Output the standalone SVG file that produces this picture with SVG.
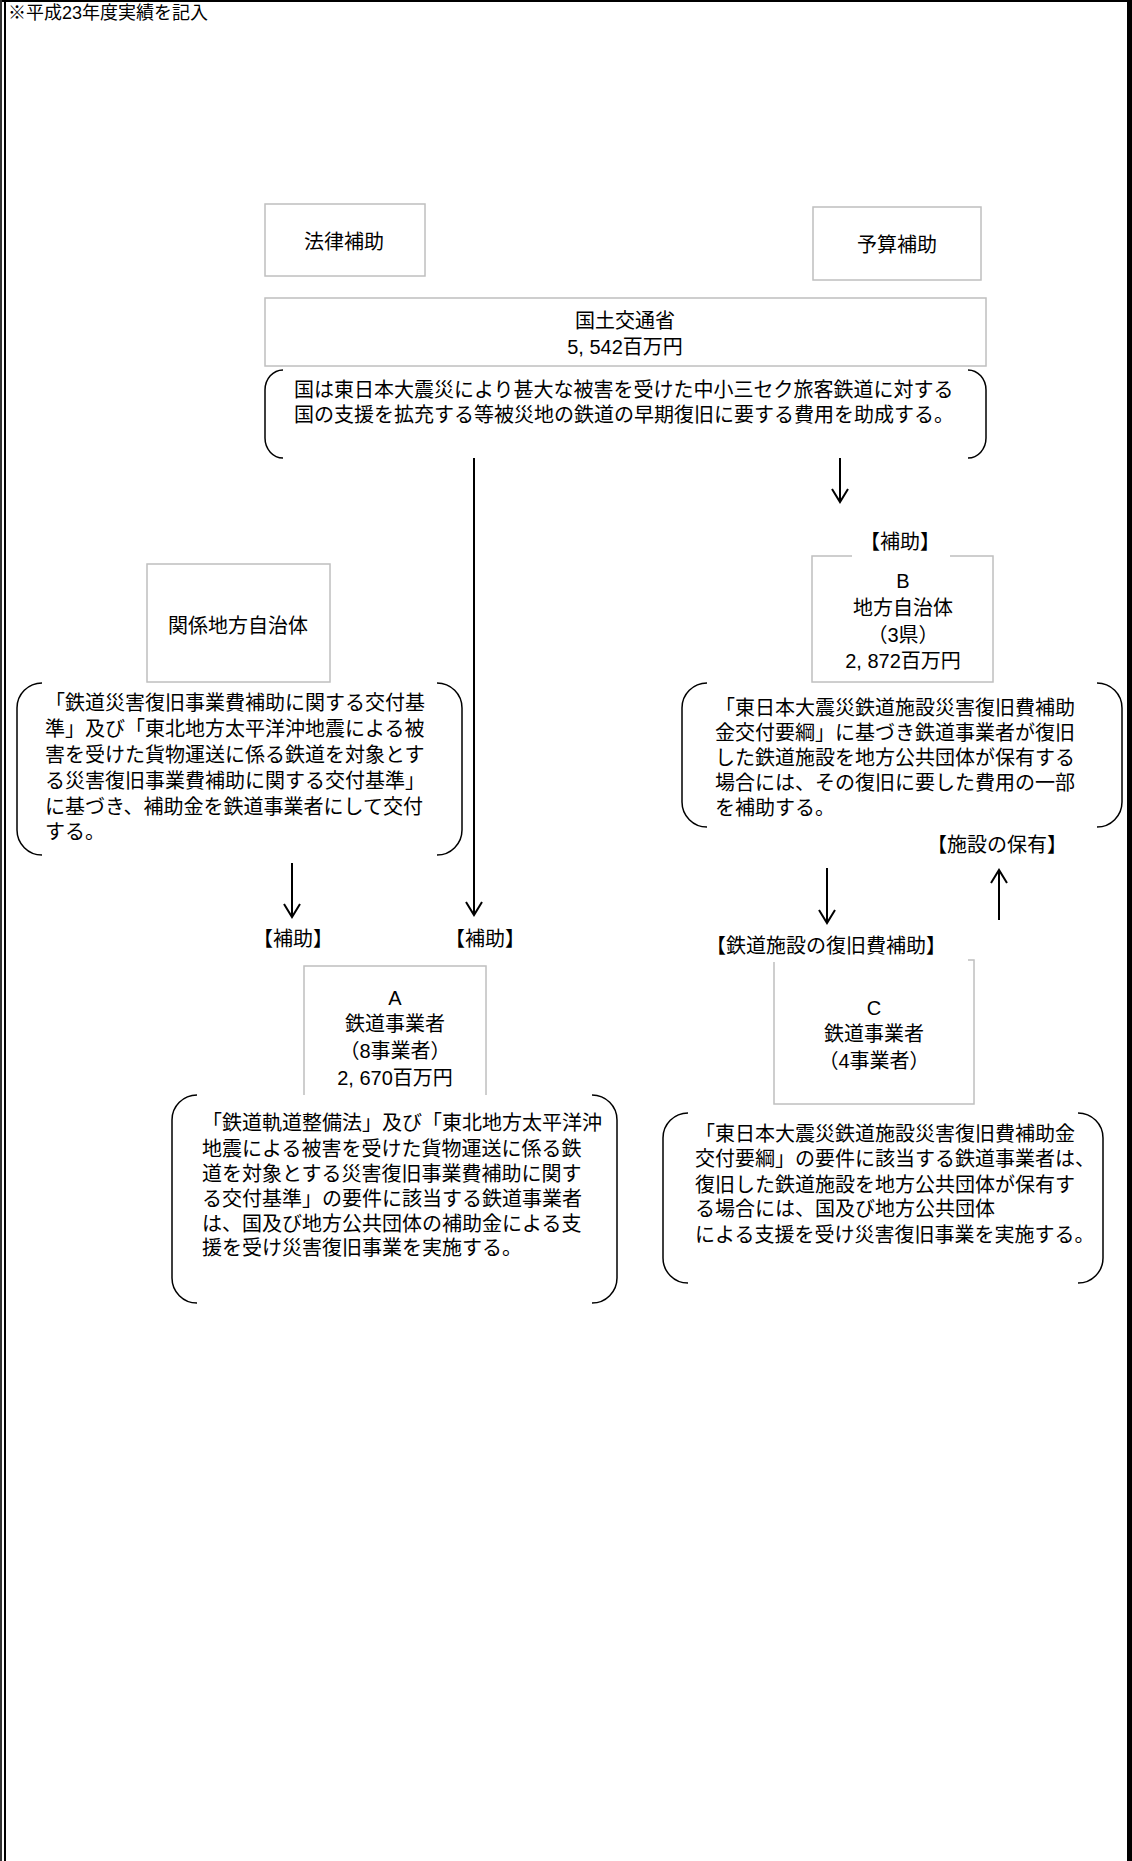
<svg xmlns="http://www.w3.org/2000/svg" width="1132" height="1861" viewBox="0 0 1132 1861">
<style>
text{font-family:"Liberation Sans","Noto Sans CJK JP",sans-serif;font-size:20px;fill:#000;dominant-baseline:central}
.c{text-anchor:middle}
.l{text-anchor:start}
.box{fill:#fff;stroke:#bfbfbf;stroke-width:1.5}
.bf{fill:#fff;stroke:none}
.br{fill:none;stroke:#000;stroke-width:1.5}
.ar{fill:none;stroke:#000;stroke-width:2;marker-end:url(#ah)}
.lb{fill:#fff;stroke:none}
</style>
<defs>
<marker id="ah" markerUnits="userSpaceOnUse" viewBox="-1 -10 16 20" refX="13" refY="0" markerWidth="16" markerHeight="20" orient="auto">
<path d="M0,-8 L13,0 L0,8" fill="none" stroke="#000" stroke-width="2"/>
</marker>
</defs>
<rect x="0" y="0" width="1132" height="1861" fill="#fff"/>
<g id="frame">
<line x1="0" y1="1" x2="1132" y2="1" stroke="#000" stroke-width="2"/>
<line x1="1" y1="0" x2="1" y2="1861" stroke="#333" stroke-width="2"/>
<line x1="5" y1="0" x2="5" y2="1861" stroke="#000" stroke-width="2"/>
<line x1="1129.5" y1="0" x2="1129.5" y2="1861" stroke="#000" stroke-width="5"/>
</g>
<text x="8" y="13" class="l" style="font-size:18px">※平成23年度実績を記入</text>

<g id="connectors">
<line class="ar" x1="474" y1="452" x2="474" y2="915"/>
<line class="ar" x1="840" y1="452" x2="840" y2="502"/>
<line class="ar" x1="292" y1="863" x2="292" y2="917"/>
<line class="ar" x1="827" y1="868" x2="827" y2="923"/>
<line class="ar" x1="999" y1="920" x2="999" y2="870"/>
</g>

<g id="houritsu">
<rect class="box" x="265" y="204" width="160" height="72"/>
<text class="c" x="344" y="242">法律補助</text>
</g>
<g id="yosan">
<rect class="box" x="813" y="207" width="168" height="73"/>
<text class="c" x="897" y="245">予算補助</text>
</g>
<g id="mlit">
<rect class="box" x="265" y="298" width="721" height="68"/>
<text class="c"><tspan x="625" y="321">国土交通省</tspan><tspan x="625" y="347">5, 542百万円</tspan></text>
</g>
<g id="mlit-note">
<rect class="bf" x="265" y="370" width="721" height="88"/>
<path class="br" d="M283,370 A18,20 0 0 0 265,390 L265,438 A18,20 0 0 0 283,458"/>
<path class="br" d="M968,370 A18,20 0 0 1 986,390 L986,438 A18,20 0 0 1 968,458"/>
<text class="l"><tspan x="294" y="390">国は東日本大震災により甚大な被害を受けた中小三セク旅客鉄道に対する</tspan><tspan x="294" y="415">国の支援を拡充する等被災地の鉄道の早期復旧に要する費用を助成する。</tspan></text>
</g>

<g id="kankei">
<rect class="box" x="147" y="564" width="183" height="118"/>
<text class="c" x="238" y="626">関係地方自治体</text>
</g>
<g id="kankei-note">
<rect class="bf" x="17" y="683" width="445" height="172"/>
<path class="br" d="M42,683 A25,25 0 0 0 17,708 L17,830 A25,25 0 0 0 42,855"/>
<path class="br" d="M437,683 A25,25 0 0 1 462,708 L462,830 A25,25 0 0 1 437,855"/>
<text class="l"><tspan x="45" y="703">「鉄道災害復旧事業費補助に関する交付基</tspan><tspan x="45" y="729">準」及び「東北地方太平洋沖地震による被</tspan><tspan x="45" y="755">害を受けた貨物運送に係る鉄道を対象とす</tspan><tspan x="45" y="781">る災害復旧事業費補助に関する交付基準」</tspan><tspan x="45" y="807">に基づき、補助金を鉄道事業者にして交付</tspan><tspan x="45" y="832">する。</tspan></text>
</g>

<g id="nodeB">
<rect class="box" x="812" y="556" width="181" height="126"/>
<rect class="lb" x="852" y="526" width="98" height="33"/>
<text class="c" x="900" y="542">【補助】</text>
<text class="c"><tspan x="903" y="581">B</tspan><tspan x="903" y="608">地方自治体</tspan><tspan x="903" y="635">（3県）</tspan><tspan x="903" y="661">2, 872百万円</tspan></text>
</g>
<g id="nodeB-note">
<rect class="bf" x="682" y="683" width="440" height="144"/>
<path class="br" d="M707,683 A25,25 0 0 0 682,708 L682,802 A25,25 0 0 0 707,827"/>
<path class="br" d="M1097,683 A25,25 0 0 1 1122,708 L1122,802 A25,25 0 0 1 1097,827"/>
<text class="l"><tspan x="715" y="708">「東日本大震災鉄道施設災害復旧費補助</tspan><tspan x="715" y="733">金交付要綱」に基づき鉄道事業者が復旧</tspan><tspan x="715" y="758">した鉄道施設を地方公共団体が保有する</tspan><tspan x="715" y="783">場合には、その復旧に要した費用の一部</tspan><tspan x="715" y="808">を補助する。</tspan></text>
</g>
<text class="c" x="997" y="845">【施設の保有】</text>

<text class="c" x="293" y="939">【補助】</text>
<text class="c" x="485" y="939">【補助】</text>

<g id="nodeA">
<rect class="box" x="304" y="966" width="182" height="137"/>
<text class="c"><tspan x="395" y="998">A</tspan><tspan x="395" y="1024">鉄道事業者</tspan><tspan x="395" y="1051">（8事業者）</tspan><tspan x="395" y="1078">2, 670百万円</tspan></text>
</g>
<g id="nodeA-note">
<rect class="bf" x="172" y="1095" width="445" height="208"/>
<path class="br" d="M197,1095 A25,25 0 0 0 172,1120 L172,1278 A25,25 0 0 0 197,1303"/>
<path class="br" d="M592,1095 A25,25 0 0 1 617,1120 L617,1278 A25,25 0 0 1 592,1303"/>
<text class="l"><tspan x="202" y="1123">「鉄道軌道整備法」及び「東北地方太平洋沖</tspan><tspan x="202" y="1149">地震による被害を受けた貨物運送に係る鉄</tspan><tspan x="202" y="1174">道を対象とする災害復旧事業費補助に関す</tspan><tspan x="202" y="1199">る交付基準」の要件に該当する鉄道事業者</tspan><tspan x="202" y="1224">は、国及び地方公共団体の補助金による支</tspan><tspan x="202" y="1248">援を受け災害復旧事業を実施する。</tspan></text>
</g>

<g id="nodeC">
<rect class="box" x="774" y="960" width="200" height="144"/>
<rect class="lb" x="706" y="929" width="262" height="33"/>
<text class="c" x="826" y="946">【鉄道施設の復旧費補助】</text>
<text class="c"><tspan x="874" y="1008">C</tspan><tspan x="874" y="1034">鉄道事業者</tspan><tspan x="874" y="1061">（4事業者）</tspan></text>
</g>
<g id="nodeC-note">
<rect class="bf" x="663" y="1113" width="440" height="170"/>
<path class="br" d="M688,1113 A25,25 0 0 0 663,1138 L663,1258 A25,25 0 0 0 688,1283"/>
<path class="br" d="M1078,1113 A25,25 0 0 1 1103,1138 L1103,1258 A25,25 0 0 1 1078,1283"/>
<text class="l"><tspan x="695" y="1134">「東日本大震災鉄道施設災害復旧費補助金</tspan><tspan x="695" y="1159">交付要綱」の要件に該当する鉄道事業者は、</tspan><tspan x="695" y="1185">復旧した鉄道施設を地方公共団体が保有す</tspan><tspan x="695" y="1209">る場合には、国及び地方公共団体</tspan><tspan x="695" y="1235">による支援を受け災害復旧事業を実施する。</tspan></text>
</g>
</svg>
